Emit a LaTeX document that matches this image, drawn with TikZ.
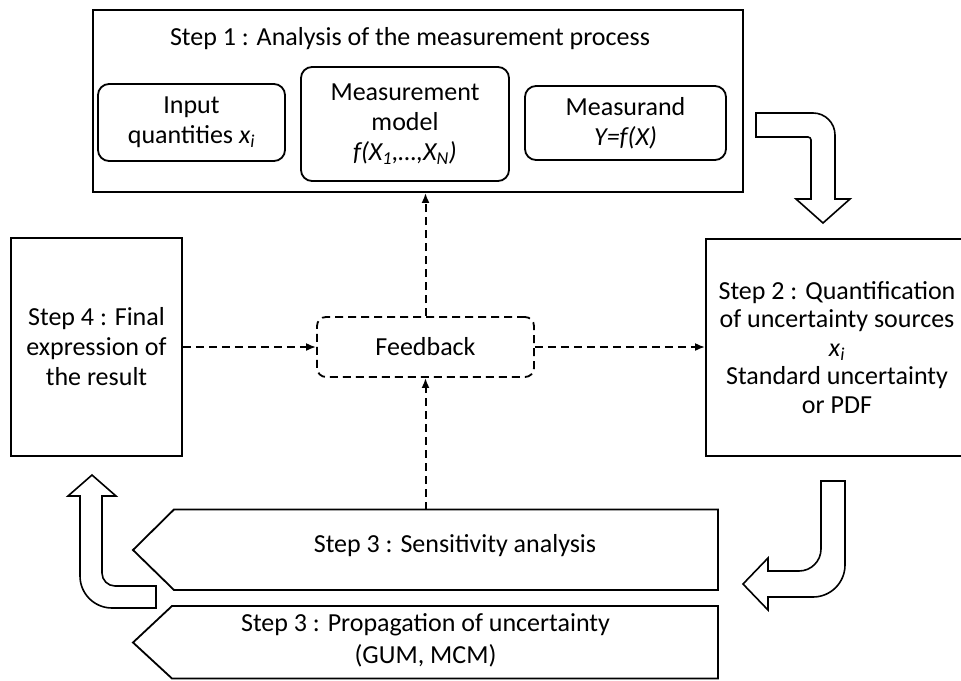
\documentclass[tikz,border=0pt]{standalone}
\usepackage{fontspec}
\setmainfont{Carlito}
\usetikzlibrary{arrows.meta}
\begin{document}
\begin{tikzpicture}[x=1pt,y=-1pt,
  every node/.style={font=\fontsize{26}{30}\selectfont, inner sep=0pt, align=center},
  stepbox/.style={draw, line width=1.8pt},
  innerbox/.style={draw, line width=1.8pt, rounded corners=11pt},
  fbbox/.style={draw, line width=1.8pt, rounded corners=9pt, dash pattern=on 8pt off 5pt},
  dasharrow/.style={line width=2pt, dash pattern=on 8pt off 5pt, -{Latex[length=10pt,width=8pt]}},
  outline/.style={draw, line width=1.8pt, line join=miter},
  blockarrow/.style={draw, fill=white, line width=1.6pt, line join=miter}]

\clip (0,0) rectangle (961,680);

% Step 1 frame with its three components
\node[stepbox, minimum width=650pt, minimum height=182pt] (s1) at (418,101) {};
\node (s1t) at (410,39) {Step 1 : Analysis of the measurement process};
\node[innerbox, minimum width=187pt, minimum height=77pt] (inq) at (191.5,122.5)
  {Input\\quantities \textit{x}\textsubscript{\textit{i}}};
\node[innerbox, minimum width=208pt, minimum height=114pt] (mm) at (405,124)
  {Measurement\\model\\\textit{f(X\textsubscript{1},…,X\textsubscript{N})}};
\node[innerbox, minimum width=201pt, minimum height=74pt] (msd) at (625.5,123)
  {Measurand\\\textit{Y=f(X)}};

% Step 4 and Step 2
\node[stepbox, minimum width=171pt, minimum height=218pt] (s4) at (96.5,347)
  {Step 4 : Final\\expression of\\the result};
\node[stepbox, minimum width=262pt, minimum height=217pt,
      font=\fontsize{26}{28.5}\selectfont] (s2) at (837,347.5)
  {Step 2 : Quantification\\of uncertainty sources\\\textit{x}\textsubscript{\textit{i}}\\Standard uncertainty\\or PDF};

% Feedback hub
\node[fbbox, minimum width=217pt, minimum height=60pt] (fb) at (425.5,347) {Feedback};

% Step 3 pentagons
\draw[outline] (174,509.5) -- (718,509.5) -- (718,590) -- (174,590) -- (133,550) -- cycle;
\node (s3a) at (455,546) {Step 3 : Sensitivity analysis};
\coordinate (s3top) at (425.5,509.5);
\draw[outline] (172,606) -- (718,606) -- (718,678.5) -- (172,678.5) -- (133,642.5) -- cycle;
\node[font=\fontsize{26}{32}\selectfont] (s3b) at (425.5,640) {Step 3 : Propagation of uncertainty\\(GUM, MCM)};

% Dashed feedback connectors
\draw[dasharrow] (fb.north) -- (fb.north |- s1.south);
\draw[dasharrow] (s4.east) -- (fb.west);
\draw[dasharrow] (fb.east) -- (fb.east -| s2.west);
\draw[dasharrow] (s3top) -- (fb.south);

% Bent block arrows between the steps
\draw[blockarrow] (756,113) -- (813,113) arc[start angle=-90, end angle=0, radius=22]
  -- (835,199) -- (850,199) -- (823,223) -- (796,199) -- (811,199) -- (811,140)
  arc[start angle=0, end angle=-90, radius=3] -- (756,137) -- cycle;

\draw[blockarrow] (821,481) -- (845,481) -- (845,565) arc[start angle=0, end angle=90, radius=32]
  -- (768,597) -- (768,610) -- (743,584) -- (768,558) -- (768,571) -- (799,571)
  arc[start angle=90, end angle=0, radius=22] -- cycle;

\draw[blockarrow] (156,586) -- (115,586) arc[start angle=90, end angle=180, radius=13]
  -- (102,496) -- (116,496) -- (92,475) -- (68,496) -- (80,496) -- (80,576)
  arc[start angle=180, end angle=90, radius=32] -- (156,608) -- cycle;

\end{tikzpicture}
\end{document}
